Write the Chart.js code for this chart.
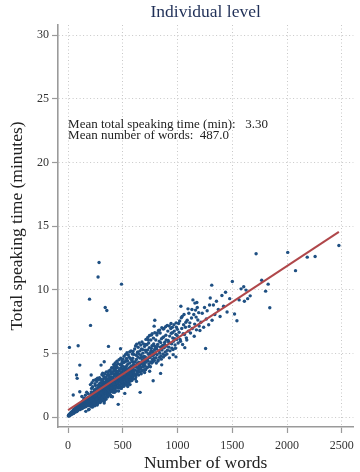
<!DOCTYPE html>
<html>
<head>
<meta charset="utf-8">
<script src="https://cdn.jsdelivr.net/npm/chart.js@4/dist/chart.umd.min.js"></script>
<style>
  html, body { margin: 0; padding: 0; background: #fff; }
  #wrap { width: 360px; height: 472px; }
</style>
</head>
<body>
<div id="wrap"><canvas id="chart" width="360" height="472"></canvas></div>
<script>
// --- data ---
const chartTitle = 'Individual level';
const xAxisTitle = 'Number of words';
const yAxisTitle = 'Total speaking time (minutes)';
const noteLines = ['Mean total speaking time (min):   3.30', 'Mean number of words:  487.0'];

const xTickValues = [0, 500, 1000, 1500, 2000, 2500];
const yTickValues = [0, 5, 10, 15, 20, 25, 30];

// [words, minutes] per speaker, main cloud
const coreSpeakers = [
  [3,0.08],[5,0.15],[8,0.12],[10,0.21],[12,0.09],[14,0.18],[17,0.26],[19,0.14],[22,0.30],[24,0.19],
  [27,0.33],[29,0.22],[31,0.41],[33,0.27],[36,0.35],[38,0.24],[41,0.46],[43,0.31],[46,0.38],[48,0.55],
  [51,0.29],[53,0.44],[55,0.62],[58,0.37],[60,0.51],[63,0.45],[65,0.70],[68,0.39],[70,0.58],[73,0.48],
  [75,0.82],[78,0.55],[80,0.44],[83,0.66],[85,0.59],[88,0.91],[90,0.52],[93,0.71],[95,0.63],[98,0.85],
  [47,1.73],[107,1.99],
  [102,0.61],[104,0.88],[107,0.74],[109,1.05],[111,0.59],[114,0.83],[116,0.97],[118,0.70],[121,1.12],[123,0.78],
  [125,0.92],[127,0.66],[130,1.21],[132,0.85],[134,0.99],[137,0.73],[139,1.08],[141,1.31],[143,0.90],[146,0.77],
  [148,1.15],[150,1.02],[152,0.84],[155,1.38],[157,0.96],[159,1.11],[161,0.81],[164,1.27],[166,1.04],[168,0.93],
  [171,1.45],[173,1.17],[175,0.88],[177,1.09],[180,1.33],[182,0.97],[184,1.22],[186,1.56],[189,1.06],[191,0.91],
  [193,1.29],[195,1.14],[198,1.41],[199,0.99],[126,1.62],[158,1.71],[183,1.84],[146,1.48],[170,1.95],[192,0.62],
  [162,0.45],[187,0.58],
  [201,1.20],[203,1.52],[206,1.07],[208,1.38],[210,1.79],[212,1.25],[215,0.98],[217,1.44],[219,1.61],[222,1.16],
  [224,1.33],[226,1.92],[228,1.48],[231,1.09],[233,1.57],[235,1.29],[238,1.71],[240,1.40],[242,2.05],[245,1.22],
  [247,1.63],[249,1.51],[252,1.86],[254,1.34],[256,1.19],[258,1.75],[261,1.58],[263,2.18],[265,1.43],[268,1.67],
  [270,1.28],[272,1.94],[274,1.55],[277,2.31],[279,1.72],[281,1.49],[283,1.85],[286,1.37],[288,2.02],[290,1.61],
  [293,1.79],[295,2.40],[297,1.53],[299,1.96],[214,2.25],[236,0.92],[251,2.47],[266,0.95],[284,2.60],[259,1.02],
  [243,1.88],[289,1.26],
  [301,1.74],[303,2.12],[306,1.88],[308,2.45],[310,1.66],[313,2.03],[315,2.29],[317,1.82],[320,2.58],[322,1.97],
  [324,2.21],[327,1.71],[329,2.37],[331,2.08],[334,2.72],[336,1.93],[338,2.19],[341,2.51],[343,1.85],[345,2.34],
  [348,2.05],[350,2.88],[352,2.26],[355,1.98],[357,2.62],[359,2.17],[362,2.41],[364,1.90],[366,2.79],[369,2.33],
  [371,2.56],[373,2.10],[376,3.02],[378,2.47],[380,2.24],[383,2.69],[385,2.02],[387,2.91],[390,2.38],[392,2.61],
  [394,2.15],[397,3.15],[399,2.52],[312,2.85],[333,1.45],[347,3.12],[361,1.58],[374,3.30],[388,1.72],[305,1.38],
  [396,2.84],[356,2.95],[326,2.64],[392,3.38],[330,1.10],
  [401,2.31],[403,2.78],[406,2.49],[408,3.05],[410,2.22],[413,2.66],[415,2.94],[417,2.40],[420,3.21],[422,2.58],
  [424,2.83],[427,2.19],[429,3.34],[431,2.71],[434,2.99],[436,2.47],[438,3.48],[441,2.86],[443,2.62],[445,3.12],
  [448,2.35],[450,3.59],[452,2.93],[455,3.20],[457,2.68],[459,3.41],[462,2.81],[464,3.07],[466,2.52],[469,3.70],
  [471,3.13],[473,2.89],[476,3.36],[478,2.74],[480,3.85],[483,3.02],[485,3.27],[487,2.80],[490,3.55],[492,3.18],
  [494,2.95],[497,3.74],[499,3.09],[405,1.60],[458,1.00],[418,3.62],[444,3.95],[461,2.05],[488,4.15],[425,1.95],
  [472,2.28],[498,2.40],[433,3.80],
  [502,2.84],[504,3.42],[507,3.01],[509,3.77],[512,2.68],[514,3.25],[517,3.56],[519,2.95],[522,3.91],[524,3.14],
  [527,3.48],[529,2.77],[532,3.66],[534,3.30],[537,4.05],[539,3.07],[542,3.52],[544,3.21],[547,4.18],[549,3.38],
  [552,2.92],[554,3.81],[557,3.44],[559,3.63],[562,3.09],[564,4.25],[567,3.57],[569,3.29],[572,3.95],[574,3.48],
  [577,3.17],[579,4.02],[582,3.71],[584,3.36],[587,4.36],[589,3.60],[592,3.88],[594,3.26],[597,4.11],[599,3.55],
  [518,1.86],[553,2.67],[530,4.40],[566,2.55],[591,4.62],[545,2.40],[576,2.85],[508,4.28],
  [603,3.45],[606,4.10],[610,3.71],[613,4.35],[617,3.28],[620,3.96],[624,4.52],[627,3.62],[631,4.20],[634,3.88],
  [638,4.71],[641,3.54],[645,4.31],[648,4.05],[652,3.76],[655,4.63],[659,4.12],[662,3.92],[666,4.85],[669,4.27],
  [673,3.70],[676,4.49],[680,4.15],[683,5.02],[687,4.38],[690,3.98],[694,4.76],[697,4.29],[615,2.98],[658,1.94],
  [671,5.35],[636,5.12],[699,3.50],[625,2.80],
  [702,4.05],[706,4.72],[710,4.31],[714,5.10],[718,3.86],[722,4.55],[726,5.28],[730,4.40],[734,4.93],[738,4.18],
  [742,5.45],[746,4.67],[750,4.95],[754,4.33],[758,5.22],[762,4.79],[766,5.60],[770,4.52],[774,5.05],[778,4.86],
  [782,5.75],[786,4.62],[790,5.31],[794,4.98],[798,5.52],[786,7.14],[792,7.60],[762,6.44],[745,3.60],[777,2.85],
  [733,6.05],[712,5.70],
  [803,4.66],[808,5.35],[813,4.90],[818,5.71],[823,4.49],[828,5.18],[833,5.96],[838,5.02],[843,5.50],[848,4.80],
  [853,6.15],[858,5.27],[863,5.62],[868,4.95],[873,6.30],[878,5.44],[883,5.88],[888,5.12],[893,6.42],[898,5.58],
  [836,6.83],[815,6.60],[855,4.10],[845,3.43],[870,6.92],[905,7.20],
  [907,5.25],[914,6.02],[921,5.49],[928,6.36],[935,5.81],[942,6.58],[949,5.40],[956,6.21],[963,5.95],[970,6.75],
  [977,5.66],[984,6.48],[991,6.10],[998,6.89],[940,7.35],[925,4.65],[960,4.90],[987,7.40],[952,7.05],[985,4.73],
  [1005,5.82],[1014,6.66],[1023,6.10],[1030,8.70],[1038,6.95],[1046,5.70],[1055,7.25],[1063,6.48],[1072,7.05],[1080,6.22],
  [1088,7.60],[1095,8.50],[1098,6.75],[1042,7.90],[1066,5.45],[1019,7.55],
  [1106,7.12],[1118,6.60],[1127,7.78],[1135,6.95],[1148,8.05],[1156,7.30],[1164,8.40],[1172,6.85],[1185,7.62],[1193,8.20],
  [1176,9.00],[1140,9.20],[1158,8.95],
  [1204,6.80],[1213,7.45],[1225,8.15],[1238,7.05],[1246,8.60],[1256,5.39],[1262,7.70],[1270,8.35],[1284,7.25],[1292,8.80],
  [1298,9.35],[1327,8.80],[1315,7.60],[1340,8.05],[1355,9.10],[1372,8.45],[1388,7.90],[1405,9.55],[1420,8.70],[1438,9.80],
  [1452,8.25],[1476,9.30]
];

// [words, minutes], edges of the cloud (the band is wider than the core list alone)
const edgeSpeakers = [
  [204,2.55],[209,0.85],[213,1.98],[218,2.70],[221,0.78],[225,2.38],[229,1.82],[232,2.88],[237,1.12],[239,2.15],
  [244,0.88],[246,2.62],[250,1.70],[253,2.95],[257,2.22],[260,1.41],[262,2.80],[267,1.85],[269,3.05],[271,1.05],
  [275,2.48],[278,1.22],[280,2.95],[282,2.12],[285,1.68],[287,3.10],[291,2.28],[294,1.14],[296,2.70],[298,1.88],
  [302,2.95],[304,1.25],[307,2.62],[309,3.32],[311,1.50],[314,2.78],[316,3.45],[318,1.35],[321,2.95],[323,1.62],
  [325,3.18],[328,2.48],[332,1.28],[335,3.40],[337,2.55],[340,1.58],[342,3.05],[344,2.70],[346,1.40],[349,3.55],
  [351,2.60],[353,1.76],[358,3.28],[360,2.78],[363,1.70],[365,3.48],[368,2.95],[370,1.88],[372,3.62],[375,2.70],
  [377,1.80],[379,3.15],[382,2.90],[384,1.95],[386,3.70],[389,2.82],[391,1.62],[393,3.50],[395,2.30],[398,3.88],
  [402,3.55],[404,2.05],[407,3.85],[409,2.72],[411,1.95],[414,3.40],[416,4.12],[419,2.60],[421,3.72],[423,2.15],
  [426,3.98],[428,2.90],[430,4.25],[432,2.35],[435,3.62],[437,2.05],[439,4.05],[442,3.28],[446,4.38],[449,2.70],
  [451,3.88],[453,2.28],[456,4.20],[460,3.60],[463,2.45],[465,4.50],[467,3.30],[470,2.38],[474,4.12],[477,3.05],
  [479,2.55],[481,4.62],[484,3.48],[486,2.25],[489,4.05],[491,2.62],[493,4.40],[495,3.42],[496,2.72],
  [501,4.55],[503,2.55],[506,3.95],[510,2.42],[511,4.78],[513,3.70],[516,2.60],[520,4.35],[523,2.70],[525,4.92],
  [528,3.85],[531,2.55],[533,4.60],[536,3.02],[538,5.05],[541,2.85],[543,4.42],[546,3.75],[548,2.62],[550,4.88],
  [555,3.15],[558,4.70],[561,2.80],[563,5.12],[565,3.90],[568,2.95],[571,4.58],[573,3.35],[575,5.20],[578,3.02],
  [581,4.48],[583,2.88],[586,4.95],[588,3.80],[590,3.05],[593,5.15],[596,4.30],[598,3.00],
  [601,4.92],[605,3.30],[608,5.35],[612,3.95],[616,5.58],[619,3.15],[622,4.85],[626,5.72],[629,3.42],[633,5.05],
  [637,3.65],[640,5.48],[644,3.30],[647,4.95],[650,5.82],[654,3.55],[657,5.20],[661,3.85],[664,5.65],[668,3.40],
  [672,4.70],[675,5.90],[678,3.62],[682,5.30],[685,3.95],[689,5.75],[692,4.55],[696,3.72],[698,5.55],
  [704,5.25],[708,3.72],[711,6.10],[716,4.42],[720,5.68],[724,3.90],[728,6.25],[732,4.65],[736,5.82],[740,4.02],
  [744,6.40],[748,5.05],[752,3.95],[756,6.05],[760,5.40],[764,4.25],[768,6.55],[772,5.15],[776,4.35],[780,6.20],
  [784,5.60],[788,4.45],[792,6.62],[796,5.05],
  [801,6.05],[806,4.25],[811,6.45],[816,5.55],[821,4.40],[826,6.80],[831,5.20],[836,4.70],[841,6.60],[846,5.85],
  [851,4.55],[856,7.02],[861,5.45],[866,6.25],[871,4.72],[876,6.95],[881,5.70],[886,4.85],[891,7.10],[896,6.05],
  [903,4.95],[911,6.75],[918,5.90],[924,7.15],[931,5.20],[938,6.95],[946,5.75],[953,6.62],[959,5.30],[967,7.25],
  [974,6.15],[981,5.40],[989,7.05],[996,6.40],
  [1009,7.35],[1027,5.95],[1034,7.80],[1051,6.55],[1059,8.05],[1076,7.45],[1084,6.05],[1103,8.15],[1112,7.40],[1131,8.45],
  [1152,6.35],[1169,7.85],[1180,8.60],[1197,7.15]
];

// [words, minutes], scattered speakers away from the cloud
const outlierSpeakers = [
  [12,5.47],[92,5.60],[196,9.26],[205,7.20],[274,11.00],[283,12.14],[339,8.60],[354,8.37],[369,5.55],[488,10.44],
  [479,5.36],[107,4.08],[77,3.30],[83,3.04],[211,3.30],[301,4.08],[330,4.34],[491,4.24],
  [1312,10.36],[1500,10.65],[1520,8.10],[1542,7.56],[1562,9.20],[1580,10.07],[1604,10.23],[1610,9.10],[1625,9.97],
  [1640,9.30],[1663,9.52],[1717,12.82],[1768,10.75],[1804,9.89],[1827,10.44],[1842,8.58],[2006,12.93],[2077,11.50],
  [2184,12.56],[2256,12.61],[2473,13.47]
];

// fitted line end points
const fitWords = [0, 2473];
const fitMinutes = [0.55, 14.55];

// --- helpers ---
const serif = '"Liberation Serif", "DejaVu Serif", serif';
const axisGray = '#9a9a9a';
const gridGray = '#c8c8c8';

const scatterData = coreSpeakers.concat(edgeSpeakers, outlierSpeakers).map(p => ({ x: p[0], y: p[1] }));
const fitData = fitWords.map((w, i) => ({ x: w, y: fitMinutes[i] }));

const textPlugin = {
    id: 'extraText',
    afterDraw(chart) {
        const ctx = chart.ctx;
        const area = chart.chartArea;
        const xs = chart.scales.x;
        const ys = chart.scales.y;
        ctx.save();
        // title
        ctx.fillStyle = '#1f2f57';
        ctx.font = '17.5px ' + serif;
        ctx.textAlign = 'center';
        ctx.textBaseline = 'middle';
        ctx.fillText(chartTitle, (area.left + area.right) / 2, 12);
        // note with the means
        ctx.fillStyle = '#222';
        ctx.font = '13px ' + serif;
        ctx.textAlign = 'left';
        const nx = xs.getPixelForValue(0);
        ctx.fillText(noteLines[0], nx, ys.getPixelForValue(23.0));
        ctx.fillText(noteLines[1], nx, ys.getPixelForValue(22.1));
        ctx.restore();
    }
};

const axisCommon = (ticksList) => ({
    type: 'linear',
    afterBuildTicks: (scale) => { scale.ticks = ticksList.map(v => ({ value: v })); },
    grid: {
        color: gridGray,
        lineWidth: 1,
        drawTicks: true,
        tickLength: 6,
        tickColor: axisGray,
        tickWidth: 1.2,
        tickBorderDash: []
    },
    border: { display: true, color: axisGray, width: 1.6, dash: [1, 2.5] },
    ticks: {
        color: '#333',
        font: { family: serif, size: 12 },
        padding: 3,
        autoSkip: false,
        maxRotation: 0,
        callback: (v) => String(v) // pas de séparateur de milliers
    }
});

const xScale = axisCommon(xTickValues);
xScale.min = -92;
xScale.max = 2605;
xScale.position = 'bottom';
xScale.ticks.padding = 6;
xScale.afterFit = (scale) => { scale.height = 45; };
xScale.title = { display: true, text: xAxisTitle, color: '#222', font: { family: serif, size: 17.5 }, padding: { top: 0, bottom: -2 } };

const yScale = axisCommon(yTickValues);
yScale.min = -0.78;
yScale.max = 30.79;
yScale.position = 'left';
yScale.afterFit = (scale) => { scale.width = 58; };
yScale.title = { display: true, text: yAxisTitle, color: '#222', font: { family: serif, size: 17.5 }, padding: { top: 7, bottom: 0 } };

new Chart(document.getElementById('chart'), {
    type: 'scatter',
    data: {
        datasets: [
            {
                type: 'line',
                label: 'Fit',
                data: fitData,
                borderColor: '#b0474a',
                borderWidth: 2,
                pointRadius: 0,
                fill: false,
                order: 0
            },
            {
                label: 'Speakers',
                data: scatterData,
                backgroundColor: '#1f5083',
                borderWidth: 0,
                pointRadius: 1.7,
                order: 1
            }
        ]
    },
    options: {
        responsive: false,
        animation: false,
        devicePixelRatio: 1,
        layout: { padding: { top: 25, right: 0, bottom: 0, left: 0 } },
        plugins: {
            legend: { display: false },
            tooltip: { enabled: false },
            title: { display: false }
        },
        scales: { x: xScale, y: yScale }
    },
    plugins: [textPlugin]
});
</script>
</body>
</html>
